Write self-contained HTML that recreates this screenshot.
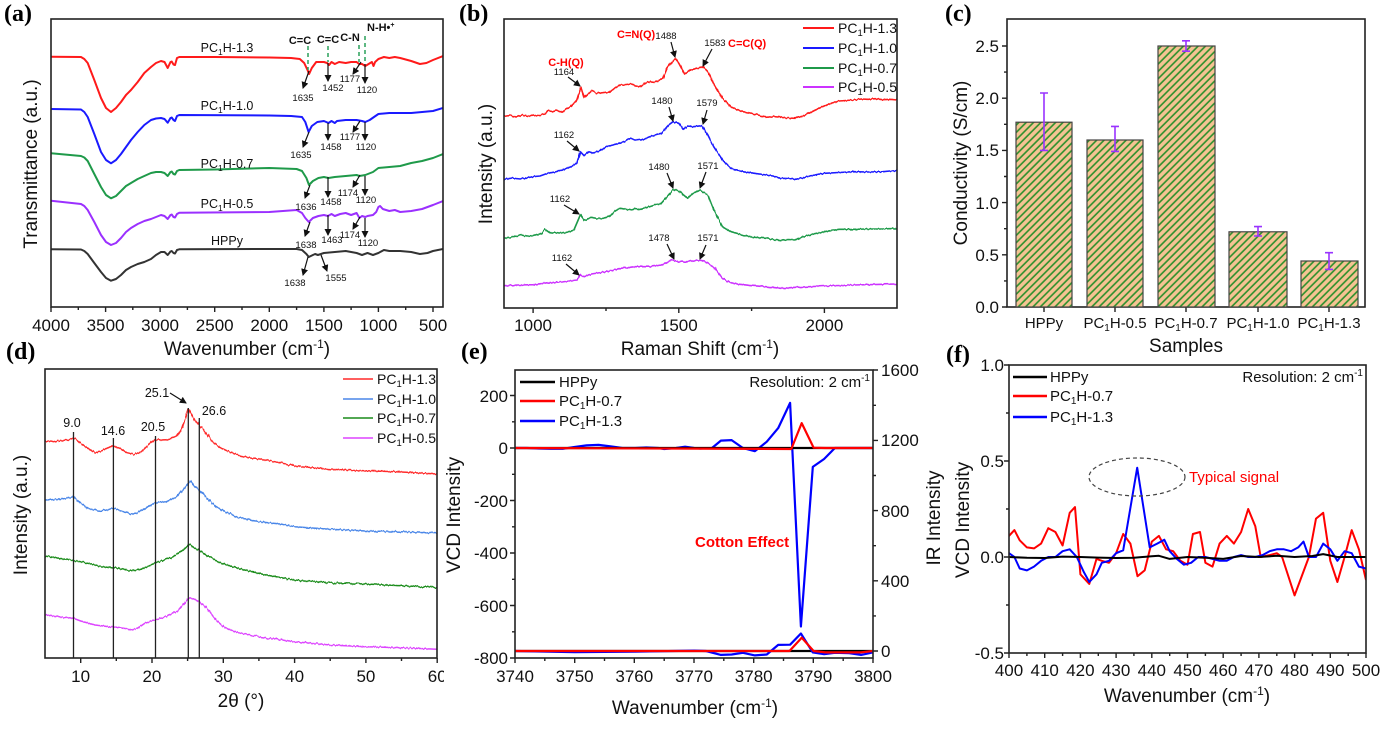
<!DOCTYPE html>
<html><head><meta charset="utf-8">
<style>
html,body{margin:0;padding:0;background:#fff;}
svg{display:block;font-family:"Liberation Sans",Arial,sans-serif;}
.pl{font-family:"Liberation Serif",serif;font-weight:bold;font-size:24px;}
.tk{font-size:17px;fill:#111;}
.ax{font-size:19px;fill:#111;}
.nb{font-size:9.5px;fill:#111;}
.bd{font-size:11px;font-weight:bold;fill:#111;}
.rb{font-size:11px;font-weight:bold;fill:#ff0000;}
.lg{font-size:14px;fill:#111;}
.lg15{font-size:15px;fill:#111;}
</style></head><body>
<svg width="1386" height="729" viewBox="0 0 1386 729" xmlns="http://www.w3.org/2000/svg">
<defs>
<clipPath id="ca"><rect x="51" y="19" width="392" height="288"/></clipPath>
<clipPath id="cb"><rect x="504" y="19" width="393" height="289"/></clipPath>
<clipPath id="cd"><rect x="45" y="369" width="392" height="289"/></clipPath>
<clipPath id="ce"><rect x="515" y="370" width="358" height="288"/></clipPath>
<clipPath id="cf"><rect x="1009" y="365" width="357" height="288"/></clipPath>
<filter id="nz" filterUnits="userSpaceOnUse" x="0" y="0" width="1386" height="729">
<feTurbulence type="fractalNoise" baseFrequency="0.6 0.04" numOctaves="1" seed="3" result="t"/>
<feDisplacementMap in="SourceGraphic" in2="t" scale="3.5" xChannelSelector="R" yChannelSelector="G"/>
</filter>
<filter id="nz2" filterUnits="userSpaceOnUse" x="0" y="0" width="1386" height="729">
<feTurbulence type="fractalNoise" baseFrequency="0.5 0.04" numOctaves="1" seed="7" result="t"/>
<feDisplacementMap in="SourceGraphic" in2="t" scale="2.5" xChannelSelector="R" yChannelSelector="G"/>
</filter>
<pattern id="hatch" patternUnits="userSpaceOnUse" width="5.2" height="10" patternTransform="rotate(45)">
<rect width="5.2" height="10" fill="#f5c393"/>
<line x1="1" y1="0" x2="1" y2="10" stroke="#2a8f2a" stroke-width="1.6"/>
</pattern>
<marker id="ah" markerWidth="7" markerHeight="7" refX="6" refY="3.5" orient="auto" markerUnits="userSpaceOnUse">
<path d="M0,0 L7,3.5 L0,7 Z" fill="#111"/>
</marker>
</defs>
<rect x="0" y="0" width="1386" height="729" fill="#fff"/>

<!-- (a) FTIR curves -->
<g clip-path="url(#ca)" fill="none" stroke-width="2" stroke-linejoin="round">
<polyline stroke="#ff1a1a" points="51,56.7 81,57 84.3,59 87.7,63 94.3,80 101,98 106,108 111,112 116,108 121,102 126,95 131,90 137.7,82 144.3,73 151,67 156,63 161,61 164.5,62 167.7,68 170.5,62 171.7,61.5 173.5,64.5 175,65 177,58 179.3,57 214.7,57 269.3,57.5 291.1,58 299.8,59 304.2,63 307.5,70 309.1,74 311.8,68 316.2,62 323.9,62 327.1,63 329.1,65 331.5,62 334.8,64 339.1,62 345.7,63 351.1,62 356.6,62 359.1,64 362,64 365.3,66 368.6,64 371.9,62 373.5,66 375.1,62 378.4,59 383.9,57 389.3,58 394.8,57 400.2,58 411.2,61 419.9,64 426.4,63 433,60 443,56"/>
<polyline stroke="#1a1aff" points="51,109 81,109.5 84.3,112 87.7,117 94.3,134 101,152 106,160 111,163.3 116,160 121,154 126,147 131,140 137.7,132 144.3,125 151,120 156,118.5 161,118 164.5,119 167.7,122.7 170.5,118 171.7,117.5 173.5,120 175,121 177,116 179.3,115 269.3,115.5 291.1,116 302,117 305.3,122 308.6,132 311.8,126 317.3,122 323.9,121 328.5,123 331.5,121 334.8,123 337,121 345.7,120 356.6,120 362,121 365.3,122 369.7,120 374,117 378.4,114 389.3,113 400.2,113 411.2,113 422.1,112 433,111 443,108"/>
<polyline stroke="#1f9a4a" points="51,153.3 81,156 84.3,157.5 87.7,161 94.3,174 101,187 106,195 111,198.3 116,196 121,191 126,186 131,183 137.7,179 144.3,176 151,173 156,172 161,172 164.5,173 167.7,176 170.5,172 171.7,171.5 173.5,174 175,174.5 177,171 179.3,170 214.7,169.5 269.3,168 296.6,169 302,171 306.4,178 309,185 312.9,181 318.4,178 323.9,177 328.5,178 334.8,177 345.7,176 356.6,175 359.4,176 365.3,175 373,172 378.4,168 389.3,167 400.2,166 411.2,163 422.1,161 433,158 443,154"/>
<polyline stroke="#9b30ff" points="51,200.7 81,204 84.3,206 87.7,210 94.3,222 101,235 106,242 111,245 116,243 121,238 126,232 131,228 137.7,224 144.3,221 151,219 156,217 161,215 164.5,216 167.7,219 170.5,215 171.7,214.5 173.5,217 175,217.5 177,214 179.3,212.7 269.3,212 296.6,210 302,213 305.3,218 308.8,222 312.9,218 318.4,216 323.9,215 327.9,216 331.5,214 334.8,216 340.2,214 345.7,213 351.1,215 356.6,213 359.4,218 362,216 365.3,217 367.5,216 373,215 376.2,212 378.4,207 380.1,206 382.8,209 389.3,211 394.8,210 400.2,212 411.2,211 422.1,209 433,205 443,201"/>
<polyline stroke="#333333" points="51,249.3 81,249.5 84.3,251 87.7,254 94.3,263 101,272 106,278 111,280.7 116,279 121,275 126,270 131,267 137.7,264 144.3,262 151,259 156,255 161,252 164.5,252 167.7,255 170.5,251.5 171.7,251 173.5,253 175,253.5 177,250 179.3,249.3 269.3,249 296.6,249 302,250 306.4,254 308.8,257 312.9,255 315.1,254 317.9,255 323.9,253 334.8,252 345.7,251 356.6,253 362,255 367.5,253 373,255 378.4,253 383.9,250 389.3,251 400.2,251 411.2,252 419.9,254 427.5,253 433,251 443,249"/>
</g>

<!-- (b) Raman curves -->
<g clip-path="url(#cb)"><g filter="url(#nz2)" fill="none" stroke-width="1.6" stroke-linejoin="round">
<polyline stroke="#ff1a1a" points="504,116 510,115 516,117 522,115 528,116.5 533.1,115 538,115.5 544.8,114 547.7,110.7 552,111.5 556.4,110 562.3,111.7 566,109 571,106.7 576.8,100 580.9,87.3 584.1,97.7 588.5,93.3 591.4,90.7 597.2,93.3 603,92 608.9,92.7 614.7,88.3 620.5,85 626,84.5 632.2,84 636,85.5 640.9,86.7 645,83 649.7,81.7 654,82.5 658.4,80.7 662.8,78.3 667.1,68.3 671,63 675.3,58.3 678.8,63.3 684.6,74 690.4,70 696.3,68.3 703,66.7 707.9,71.7 713.7,83.3 722.5,98.3 731.2,106.7 737,109.5 742.9,111.7 748,112.5 754.5,114 760,115.5 766.2,117.3 773,116.5 780.7,117.3 788,118 795.3,118.3 801,116.5 807,114 815,110 824.4,106 832,103 839,101 846,100.5 853.6,100 861,99 868.1,99.3 875,98.7 882.7,99.7 890,99.3 897.3,100"/>
<polyline stroke="#1a1aff" points="504,179.3 512,178 520,179 533.1,176.7 540,176 547.7,173.3 555,172 562.3,170 571,166.7 576.8,163.3 580.3,151.7 584.1,155.7 588.5,151.7 593,153 597.2,151.7 603,149 606,146.7 613,145 620.5,142.7 625,141 629.3,138.3 635,139.5 640.9,140 649.7,136.7 655,135 661.3,133.3 668.6,125 673,121.7 678.8,123.3 683.1,129.3 687.5,126 693.3,126.7 701.8,125.7 707.9,135 713.7,146.7 722.5,160 731.2,168.3 742.9,171.7 754.5,173.3 766.2,175 773,176 780.7,178.3 788,178.5 795.3,179.3 802,178 809.9,176 817,174.5 824.4,173.3 839,172.5 853.6,171.7 868.1,172 882.7,171.7 890,171 897.3,170.7"/>
<polyline stroke="#1f9a4a" points="504,238.3 512,237 521.5,235 527,236.5 533.1,236 541.9,233.3 544.8,229.3 550.6,233.3 556,232.5 562.3,233.3 568,232 573.9,230 580.3,215 584.1,220.7 591.4,217.3 597,218.5 603,218.3 608.9,216.7 614,212 620.5,208.3 629.3,210 635,208.5 640.9,209.3 649.7,206.7 655,205 661.3,203.3 667.1,196.7 673,189.3 678.8,191 687.5,198.3 693.3,193.3 699.5,190 707.9,195 713.7,210 722.5,226.7 731.2,231.7 742.9,235 754.5,237.3 766.2,238.3 773,239.5 780.7,240.7 788,239.5 795.3,240 802,237 809.9,235 817,233 824.4,231.7 839,229.3 853.6,229.3 868.1,229 882.7,229 897.3,228.3"/>
<polyline stroke="#cc33ff" points="504,285.7 518,285 533.1,284.7 547.7,282.7 562.3,282 576.8,280 580.3,275 584.1,276.7 591.4,274 606,271.7 620.5,268.3 635.1,266.7 649.7,266.7 661.3,265 672.4,260 678.8,261.7 687.5,261.7 696.3,260 705,261.7 713.7,266.7 722.5,278.3 731.2,283.3 751.6,285.7 766.2,286.7 780.7,288.3 795.3,287.3 824.4,286 853.6,285 882.7,284.3 897.3,284"/>
</g></g>

<!-- (d) XRD curves -->
<g clip-path="url(#cd)"><g filter="url(#nz)" fill="none" stroke-width="1.5" stroke-linejoin="round">
<polyline stroke="#ff2a2a" points="45,441 52.1,441.7 59.3,440.7 66.4,440 73.5,438.3 77.1,440 80.7,443.3 87.8,448.3 94.9,452.7 102,450.7 109.2,447.3 113.4,446 119.9,448.3 127,452.7 134.1,454.3 141.3,451.7 148.4,445 155.5,439.3 162.6,440 169.8,439.3 176.9,436 182.6,426.7 188.3,409.3 193.3,418.3 199,425 205.4,431.7 212.5,441.7 219.6,447.3 226.8,450.7 237.5,455 251.8,458.3 266,460 280.3,462.7 294.6,466 330.2,469.3 365.9,470.7 401.5,472 437.2,474"/>
<polyline stroke="#4a86e8" points="45,500 59.3,499.3 66.4,498.3 73.5,496.7 80.7,503.3 87.8,508.3 98.5,510.7 109.2,509.3 113.4,508.3 123.4,511.7 130.6,514 137.7,512.7 148.4,506.7 155.5,502.7 166.2,501.7 176.9,496.7 184,488.3 190.4,480.7 194.7,486.7 199,490 205.4,496.7 216.1,506.7 223.3,510.7 237.5,517.3 258.9,521.7 280.3,524 294.6,526.7 330.2,529.3 365.9,531 401.5,531.7 437.2,533.3"/>
<polyline stroke="#1a8c1a" points="45,556 59.3,558.3 73.5,560.7 87.8,562.7 102,566.7 116.3,568.3 130.6,570.7 141.3,569.3 152,564 159.1,561.7 173.3,556.7 184,549.3 189.7,544.3 194.7,548.3 199,550 208.9,556.7 223.3,564 244.6,570 266,575 294.6,580 330.2,582.7 365.9,584 401.5,585.7 437.2,587.3"/>
<polyline stroke="#dd44ff" points="45,615 59.3,616.7 73.5,618.3 80.7,621 94.9,625 109.2,626.7 116.3,627.3 123.4,628.3 130.6,630 137.7,628.3 144.8,623.3 152,620.7 166.2,616.7 176.9,611.7 184,603.3 189.7,597.7 194.7,599.3 199,601.7 205.4,606.7 216.1,620 223.3,626.7 237.5,632.7 258.9,636.7 294.6,641.7 330.2,645 365.9,646.7 401.5,647.7 437.2,649.3"/>
</g></g>

<!-- (e) curves -->
<g clip-path="url(#ce)" fill="none" stroke-width="2.2" stroke-linejoin="round">
<polyline stroke="#000" points="515,651 873,651"/>
<polyline stroke="#0000ff" points="515,651 574.7,652.1 634.3,651.7 694.1,650.6 706,651 720.9,654.9 731.6,654.5 742.9,652.8 754.9,655.4 766.8,654.5 778.2,644.9 790.1,644.7 800.9,633.5 812.8,652.4 824.1,654.2 834.9,652.8 849.2,653.1 861.1,654.9 873,652.4"/>
<polyline stroke="#ff0000" points="515,651 789.5,651 801.7,637.7 813.6,651 825.5,652.4 861.1,652.4 873,651"/>
<polyline stroke="#0000ff" points="515,448 526.9,448 538.9,448.5 550.8,448.8 562.7,448.8 574.7,447 586.6,445.4 598.5,444.9 610.5,446.4 622.4,448 634.3,448 646.3,447.5 658.2,448 664.2,449 676.1,448 685.1,446.7 694.1,448 700,448.5 712,448 720.9,440.6 731.6,440.1 742.9,448 754.9,451.2 766.8,441.7 778.2,428.1 790.1,402.9 800.9,626.5 812.8,466.9 824.1,459 834.9,448 873,448"/>
<polyline stroke="#000" points="515,448 873,448"/>
<polyline stroke="#ff0000" points="515,448 791.3,449 801.7,423.1 813.6,447.7 825.5,448 873,448"/>
</g>

<!-- (f) curves -->
<g clip-path="url(#cf)" fill="none" stroke-width="2" stroke-linejoin="round">
<polyline stroke="#ff0000" points="1009,535.9 1014.4,530.1 1019.7,540.3 1026.9,547.4 1034,548.4 1041.1,543.6 1048.3,528.2 1055.4,532 1062.6,545.5 1069.7,512.8 1075,507.1 1080.4,574.3 1089.3,583.9 1096.5,558.9 1101.8,560.8 1109,562.8 1116.1,553.2 1123.2,534 1130.4,543.6 1137.5,576.2 1144.7,570.4 1151.8,541.6 1158.9,535.9 1166.1,549.3 1173.2,551.2 1180.4,560.8 1187.5,564.7 1192.9,534 1200,532 1205.4,562.8 1212.5,566.6 1219.6,543.6 1226.8,535.9 1233.9,543.6 1241.1,532 1248.2,509 1255.3,526.3 1260.7,557 1269.6,555.1 1276.8,553.2 1282.1,557 1294.6,595.4 1308.9,557 1316,518.6 1323.2,512.8 1330.3,560.8 1337.4,582 1344.6,557 1351.7,530.1 1358.9,549.3 1366,580"/>
<polyline stroke="#0000ff" points="1009,553.2 1014.4,557 1019.7,568.5 1026.9,570.4 1034,566.6 1041.1,560.8 1048.3,557 1055.4,557 1062.6,551.2 1069.7,549.3 1076.8,557 1084,572.4 1089.3,582 1096.5,574.3 1101.8,562.8 1109,560.8 1116.1,553.2 1123.2,550.3 1137.2,467.7 1149.7,547.4 1157.2,543.6 1164.3,539.7 1169.7,551.2 1176.8,558.9 1183.9,564.7 1191.1,562.8 1198.2,557 1205.4,557 1212.5,558.9 1219.6,560.8 1226.8,560.8 1233.9,557 1241.1,555.1 1248.2,557 1255.3,557 1262.5,555.1 1269.6,551.2 1276.8,549.3 1283.9,549.3 1291,551.2 1298.2,547.4 1303.5,541.6 1308.9,557 1316,557 1323.2,543.6 1330.3,549.3 1337.4,560.8 1344.6,551.2 1351.7,553.2 1358.9,566.6 1366,568.5"/>
<polyline stroke="#000" points="1009,557 1026.9,557.8 1044.7,558 1062.6,556.6 1080.4,557 1098.3,557.6 1116.1,558 1133.9,557.8 1151.8,556.2 1158.9,555.8 1169.7,558.9 1187.5,557 1205.4,557.8 1223.2,558.9 1241.1,556 1258.9,557 1276.8,555.8 1294.6,557 1312.4,556 1323.2,554.1 1337.4,557 1366,557"/>
</g>

<!-- ticks -->
<g stroke="#222" stroke-width="1.4" fill="none">
<path d="M51,307v5M105.6,307v5M160.1,307v5M214.7,307v5M269.3,307v5M323.9,307v5M378.4,307v5M433,307v5"/>
<path d="M78.3,307v3M132.8,307v3M187.4,307v3M242,307v3M296.6,307v3M351.1,307v3M405.7,307v3"/>
<path d="M533.1,308v5M678.8,308v5M824.4,308v5M606,308v3M751.6,308v3"/>
<path d="M1007,307h-5M1007,254.8h-5M1007,202.6h-5M1007,150.4h-5M1007,98.2h-5M1007,46h-5"/>
<path d="M1007,280.9h-3M1007,228.7h-3M1007,176.5h-3M1007,124.3h-3M1007,72.1h-3"/>
<path d="M1044,307v5M1115,307v5M1186,307v5M1258,307v5M1329,307v5"/>
<path d="M80.7,658v5M152,658v5M223.3,658v5M294.6,658v5M365.9,658v5M437.2,658v5"/>
<path d="M116.3,658v3M187.6,658v3M258.9,658v3M330.2,658v3M401.5,658v3"/>
<path d="M515,658v5M574.7,658v5M634.3,658v5M694,658v5M753.7,658v5M813.3,658v5M873,658v5"/>
<path d="M544.8,658v3M604.5,658v3M664.2,658v3M723.8,658v3M783.5,658v3M843.2,658v3"/>
<path d="M515,395.5h-5M515,448h-5M515,500.5h-5M515,553h-5M515,605.5h-5M515,658h-5"/>
<path d="M515,421.8h-3M515,474.3h-3M515,526.8h-3M515,579.3h-3M515,631.8h-3"/>
<path d="M873,651h5M873,580.8h5M873,510.6h5M873,440.4h5M873,370h5"/>
<path d="M873,615.9h3M873,545.7h3M873,475.5h3M873,405.3h3"/>
<path d="M1009,653v5M1044.7,653v5M1080.4,653v5M1116.1,653v5M1151.8,653v5M1187.5,653v5M1223.2,653v5M1258.9,653v5M1294.6,653v5M1330.3,653v5M1366,653v5"/>
<path d="M1026.9,653v3M1062.6,653v3M1098.3,653v3M1133.9,653v3M1169.7,653v3M1205.4,653v3M1241.1,653v3M1276.8,653v3M1312.4,653v3M1348.2,653v3"/>
<path d="M1009,653h-5M1009,557h-5M1009,461h-5M1009,365h-5M1009,605h-3M1009,509h-3M1009,413h-3"/>
</g>

<!-- axes boxes -->
<g fill="none" stroke="#222" stroke-width="1.6">
<rect x="51" y="19" width="392" height="288"/>
<rect x="504" y="19" width="393" height="289"/>
<rect x="1007" y="19" width="358" height="288"/>
<rect x="45" y="369" width="392" height="289"/>
<rect x="515" y="370" width="358" height="288"/>
<rect x="1009" y="365" width="357" height="288"/>
</g>

<!-- (c) bars -->
<g stroke="#444" stroke-width="1.2" fill="url(#hatch)">
<rect x="1016" y="122.2" width="56" height="184.8"/>
<rect x="1087" y="140" width="56" height="167"/>
<rect x="1158" y="46" width="57" height="261"/>
<rect x="1229" y="231.8" width="58" height="75.2"/>
<rect x="1301" y="261" width="57" height="46"/>
</g>
<g stroke="#9933ff" stroke-width="1.6" fill="none">
<path d="M1044,93 V150.4 M1040,93 H1048 M1040,150.4 H1048"/>
<path d="M1115,126.4 V151.4 M1111,126.4 H1119 M1111,151.4 H1119"/>
<path d="M1186,40.8 V51.2 M1182,40.8 H1190 M1182,51.2 H1190"/>
<path d="M1258,226.6 V236 M1254,226.6 H1262 M1254,236 H1262"/>
<path d="M1329,252.7 V269.4 M1325,252.7 H1333 M1325,269.4 H1333"/>
</g>

<!-- panel labels -->
<text class="pl" x="4" y="21">(a)</text>
<text class="pl" x="459" y="21">(b)</text>
<text class="pl" x="945" y="21">(c)</text>
<text class="pl" x="6" y="359">(d)</text>
<text class="pl" x="461" y="359">(e)</text>
<text class="pl" x="946" y="362">(f)</text>

<!-- (a) text -->
<g class="tk" text-anchor="middle">
<text x="51" y="331">4000</text><text x="105.6" y="331">3500</text><text x="160.1" y="331">3000</text><text x="214.7" y="331">2500</text>
<text x="269.3" y="331">2000</text><text x="323.9" y="331">1500</text><text x="378.4" y="331">1000</text><text x="433" y="331">500</text>
</g>
<text class="ax" x="247" y="355" text-anchor="middle">Wavenumber (cm<tspan dy="-7" font-size="12">-1</tspan><tspan dy="7">)</tspan></text>
<text class="ax" transform="translate(37,164) rotate(-90)" text-anchor="middle">Transmittance (a.u.)</text>
<g font-size="12.5" text-anchor="middle" fill="#111">
<text x="227" y="52">PC<tspan dy="3" font-size="8.5">1</tspan><tspan dy="-3">H-1.3</tspan></text>
<text x="227" y="110">PC<tspan dy="3" font-size="8.5">1</tspan><tspan dy="-3">H-1.0</tspan></text>
<text x="227" y="168">PC<tspan dy="3" font-size="8.5">1</tspan><tspan dy="-3">H-0.7</tspan></text>
<text x="227" y="208">PC<tspan dy="3" font-size="8.5">1</tspan><tspan dy="-3">H-0.5</tspan></text>
<text x="227" y="245">HPPy</text>
</g>
<g class="bd" text-anchor="middle">
<text x="300" y="44">C=C</text><text x="328" y="43">C=C</text><text x="350" y="41">C-N</text>
</g>
<text class="bd" x="367" y="31">N-H•<tspan dy="-4" font-size="7">+</tspan></text>
<g stroke="#2aa05a" stroke-width="1.5" stroke-dasharray="4,3">
<line x1="308" y1="46" x2="308" y2="70"/><line x1="328" y1="46" x2="328" y2="62"/>
<line x1="359" y1="45" x2="359" y2="62"/><line x1="365" y1="36" x2="365" y2="64"/>
</g>
<g stroke="#111" stroke-width="1.2" marker-end="url(#ah)">
<line x1="309" y1="71" x2="303" y2="88"/><line x1="328" y1="63" x2="328" y2="81"/><line x1="361" y1="62" x2="353" y2="74"/><line x1="365" y1="64" x2="365" y2="83"/>
<line x1="309" y1="132" x2="303" y2="147"/><line x1="328" y1="123" x2="328" y2="140"/><line x1="360" y1="121" x2="353" y2="132"/><line x1="365" y1="122" x2="365" y2="140"/>
<line x1="310" y1="185" x2="305" y2="198"/><line x1="328" y1="177" x2="328" y2="197"/><line x1="360" y1="175" x2="353" y2="187"/><line x1="365" y1="176" x2="365" y2="195"/>
<line x1="310" y1="222" x2="305" y2="236"/><line x1="328" y1="215" x2="328" y2="235"/><line x1="360" y1="217" x2="353" y2="229"/><line x1="365" y1="218" x2="365" y2="237"/>
<line x1="308" y1="257" x2="303" y2="275"/><line x1="321" y1="255" x2="327" y2="271"/>
</g>
<g class="nb" text-anchor="middle">
<text x="303" y="101">1635</text><text x="333" y="91">1452</text><text x="350" y="82">1177</text><text x="367" y="93">1120</text>
<text x="301" y="158">1635</text><text x="331" y="150">1458</text><text x="350" y="140">1177</text><text x="366" y="150">1120</text>
<text x="306" y="210">1636</text><text x="331" y="205">1458</text><text x="348" y="196">1174</text><text x="366" y="203">1120</text>
<text x="306" y="248">1638</text><text x="332" y="243">1463</text><text x="350" y="238">1174</text><text x="368" y="246">1120</text>
<text x="295" y="286">1638</text><text x="336" y="281">1555</text>
</g>

<!-- (b) text -->
<g class="tk" text-anchor="middle">
<text x="533.1" y="331">1000</text><text x="678.8" y="331">1500</text><text x="824.4" y="331">2000</text>
</g>
<text class="ax" x="700" y="355" text-anchor="middle">Raman Shift (cm<tspan dy="-7" font-size="12">-1</tspan><tspan dy="7">)</tspan></text>
<text class="ax" transform="translate(492,164) rotate(-90)" text-anchor="middle">Intensity (a.u.)</text>
<g class="lg">
<text x="838" y="33">PC<tspan dy="3" font-size="9.5">1</tspan><tspan dy="-3">H-1.3</tspan></text>
<text x="838" y="53">PC<tspan dy="3" font-size="9.5">1</tspan><tspan dy="-3">H-1.0</tspan></text>
<text x="838" y="73">PC<tspan dy="3" font-size="9.5">1</tspan><tspan dy="-3">H-0.7</tspan></text>
<text x="838" y="92">PC<tspan dy="3" font-size="9.5">1</tspan><tspan dy="-3">H-0.5</tspan></text>
</g>
<g stroke-width="2">
<line x1="803" y1="28" x2="834" y2="28" stroke="#ff1a1a"/>
<line x1="803" y1="48" x2="834" y2="48" stroke="#1a1aff"/>
<line x1="803" y1="68" x2="834" y2="68" stroke="#1f9a4a"/>
<line x1="803" y1="87" x2="834" y2="87" stroke="#cc33ff"/>
</g>
<text class="rb" x="566" y="66" text-anchor="middle">C-H(Q)</text>
<text class="rb" x="617" y="38">C=N(Q)</text>
<text class="rb" x="728" y="47">C=C(Q)</text>
<g class="nb" text-anchor="middle">
<text x="564" y="75">1164</text><text x="666" y="39">1488</text><text x="715" y="46">1583</text>
<text x="564" y="138">1162</text><text x="662" y="104">1480</text><text x="707" y="106">1579</text>
<text x="560" y="202">1162</text><text x="659" y="170">1480</text><text x="708" y="169">1571</text>
<text x="562" y="261">1162</text><text x="659" y="241">1478</text><text x="708" y="241">1571</text>
</g>
<g stroke="#111" stroke-width="1.2" marker-end="url(#ah)">
<line x1="568" y1="77" x2="580" y2="86"/><line x1="671" y1="42" x2="675" y2="57"/><line x1="712" y1="49" x2="703" y2="66"/>
<line x1="567" y1="141" x2="579" y2="151"/><line x1="669" y1="107" x2="673" y2="121"/><line x1="707" y1="110" x2="703" y2="124"/>
<line x1="564" y1="205" x2="579" y2="214"/><line x1="667" y1="173" x2="673" y2="188"/><line x1="706" y1="172" x2="700" y2="188"/>
<line x1="566" y1="264" x2="579" y2="275"/><line x1="667" y1="244" x2="674" y2="259"/><line x1="706" y1="245" x2="700" y2="259"/>
</g>

<!-- (c) text -->
<g class="tk" text-anchor="end">
<text x="999" y="313">0.0</text><text x="999" y="261">0.5</text><text x="999" y="209">1.0</text>
<text x="999" y="156">1.5</text><text x="999" y="104">2.0</text><text x="999" y="52">2.5</text>
</g>
<g class="lg15" text-anchor="middle">
<text x="1044" y="328">HPPy</text>
<text x="1115" y="328">PC<tspan dy="3" font-size="10">1</tspan><tspan dy="-3">H-0.5</tspan></text>
<text x="1186" y="328">PC<tspan dy="3" font-size="10">1</tspan><tspan dy="-3">H-0.7</tspan></text>
<text x="1258" y="328">PC<tspan dy="3" font-size="10">1</tspan><tspan dy="-3">H-1.0</tspan></text>
<text x="1329" y="328">PC<tspan dy="3" font-size="10">1</tspan><tspan dy="-3">H-1.3</tspan></text>
</g>
<text class="ax" x="1186" y="352" text-anchor="middle">Samples</text>
<text class="ax" transform="translate(967,163) rotate(-90)" text-anchor="middle">Conductivity (S/cm)</text>

<!-- (d) text -->
<g class="tk" text-anchor="middle">
<text x="80.6" y="682">10</text><text x="151.9" y="682">20</text><text x="223.3" y="682">30</text>
<text x="294.6" y="682">40</text><text x="365.9" y="682">50</text><text x="437.2" y="682">60</text>
</g>
<rect x="444" y="664" width="14" height="24" fill="#fff"/>
<text class="ax" x="241" y="707" text-anchor="middle">2θ (°)</text>
<text class="ax" transform="translate(27,515) rotate(-90)" text-anchor="middle">Intensity (a.u.)</text>
<g font-size="12.5" fill="#111" text-anchor="middle">
<text x="72" y="427">9.0</text><text x="113" y="435">14.6</text><text x="153" y="431">20.5</text>
<text x="157" y="397">25.1</text><text x="214" y="415">26.6</text>
</g>
<line x1="170" y1="393" x2="186" y2="403" stroke="#111" stroke-width="1.2" marker-end="url(#ah)"/>
<g stroke="#222" stroke-width="1.3">
<line x1="73.5" y1="432" x2="73.5" y2="658"/><line x1="113.4" y1="438" x2="113.4" y2="658"/>
<line x1="155.5" y1="436" x2="155.5" y2="658"/><line x1="188.3" y1="408" x2="188.3" y2="658"/>
<line x1="199.3" y1="418" x2="199.3" y2="658"/>
</g>
<g class="lg">
<text x="377" y="384">PC<tspan dy="3" font-size="9.5">1</tspan><tspan dy="-3">H-1.3</tspan></text>
<text x="377" y="404">PC<tspan dy="3" font-size="9.5">1</tspan><tspan dy="-3">H-1.0</tspan></text>
<text x="377" y="423">PC<tspan dy="3" font-size="9.5">1</tspan><tspan dy="-3">H-0.7</tspan></text>
<text x="377" y="443">PC<tspan dy="3" font-size="9.5">1</tspan><tspan dy="-3">H-0.5</tspan></text>
</g>
<g stroke-width="1.5">
<line x1="343" y1="379" x2="373" y2="379" stroke="#ff2a2a"/>
<line x1="343" y1="399" x2="373" y2="399" stroke="#4a86e8"/>
<line x1="343" y1="418" x2="373" y2="418" stroke="#1a8c1a"/>
<line x1="343" y1="438" x2="373" y2="438" stroke="#dd44ff"/>
</g>

<!-- (e) text -->
<g class="tk" text-anchor="middle">
<text x="515" y="682">3740</text><text x="574.7" y="682">3750</text><text x="634.3" y="682">3760</text><text x="694" y="682">3770</text>
<text x="753.7" y="682">3780</text><text x="813.3" y="682">3790</text><text x="873" y="682">3800</text>
</g>
<g class="tk" text-anchor="end">
<text x="508" y="402">200</text><text x="508" y="454">0</text><text x="508" y="507">-200</text>
<text x="508" y="559">-400</text><text x="508" y="612">-600</text><text x="508" y="664">-800</text>
</g>
<g class="tk">
<text x="881" y="376">1600</text><text x="881" y="446">1200</text><text x="881" y="517">800</text>
<text x="881" y="587">400</text><text x="881" y="657">0</text>
</g>
<text class="ax" x="695" y="714" text-anchor="middle">Wavenumber (cm<tspan dy="-7" font-size="12">-1</tspan><tspan dy="7">)</tspan></text>
<text class="ax" transform="translate(460,515) rotate(-90)" text-anchor="middle">VCD Intensity</text>
<g class="lg15">
<text x="559" y="387">HPPy</text>
<text x="559" y="406">PC<tspan dy="3" font-size="10">1</tspan><tspan dy="-3">H-0.7</tspan></text>
<text x="559" y="426">PC<tspan dy="3" font-size="10">1</tspan><tspan dy="-3">H-1.3</tspan></text>
</g>
<g stroke-width="2.5">
<line x1="520" y1="382" x2="555" y2="382" stroke="#000"/>
<line x1="520" y1="401" x2="555" y2="401" stroke="#ff0000"/>
<line x1="520" y1="421" x2="555" y2="421" stroke="#0000ff"/>
</g>
<text class="lg15" x="870" y="387" text-anchor="end">Resolution: 2 cm<tspan dy="-6" font-size="10">-1</tspan></text>
<text x="695" y="547" font-size="15" font-weight="bold" fill="#ff0000">Cotton Effect</text>

<!-- (f) text -->
<g class="tk" text-anchor="middle">
<text x="1009" y="676">400</text><text x="1044.7" y="676">410</text><text x="1080.4" y="676">420</text><text x="1116.1" y="676">430</text>
<text x="1151.8" y="676">440</text><text x="1187.5" y="676">450</text><text x="1223.2" y="676">460</text><text x="1258.9" y="676">470</text>
<text x="1294.6" y="676">480</text><text x="1330.3" y="676">490</text><text x="1366" y="676">500</text>
</g>
<g class="tk" text-anchor="end">
<text x="1004" y="371">1.0</text><text x="1004" y="467">0.5</text><text x="1004" y="563">0.0</text><text x="1004" y="659">-0.5</text>
</g>
<text class="ax" x="1187" y="702" text-anchor="middle">Wavenumber (cm<tspan dy="-7" font-size="12">-1</tspan><tspan dy="7">)</tspan></text>
<text class="ax" transform="translate(940,518) rotate(-90)" text-anchor="middle">IR Intensity</text>
<text class="ax" transform="translate(969,520) rotate(-90)" text-anchor="middle">VCD Intensity</text>
<g class="lg15">
<text x="1050" y="382">HPPy</text>
<text x="1050" y="401">PC<tspan dy="3" font-size="10">1</tspan><tspan dy="-3">H-0.7</tspan></text>
<text x="1050" y="422">PC<tspan dy="3" font-size="10">1</tspan><tspan dy="-3">H-1.3</tspan></text>
</g>
<g stroke-width="2.5">
<line x1="1013" y1="377" x2="1047" y2="377" stroke="#000"/>
<line x1="1013" y1="396" x2="1047" y2="396" stroke="#ff0000"/>
<line x1="1013" y1="417" x2="1047" y2="417" stroke="#0000ff"/>
</g>
<text class="lg15" x="1363" y="382" text-anchor="end">Resolution: 2 cm<tspan dy="-6" font-size="10">-1</tspan></text>
<ellipse cx="1137" cy="477" rx="48" ry="19" fill="none" stroke="#444" stroke-width="1.2" stroke-dasharray="4,3"/>
<text x="1189" y="482" font-size="15" fill="#ff0000">Typical signal</text>
</svg>
</body></html>
